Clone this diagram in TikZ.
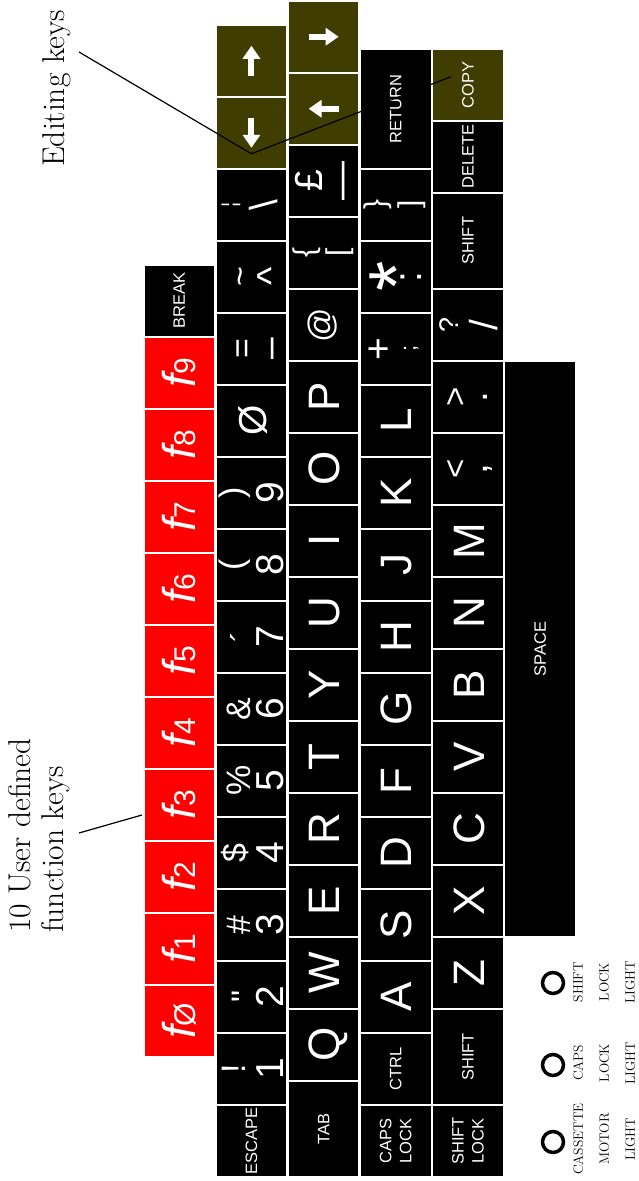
\documentclass[tikz,border=0pt]{standalone}
\usepackage{fontspec}
\newfontfamily\kf{Liberation Sans}
\usetikzlibrary{arrows.meta}
\definecolor{keyolive}{RGB}{64,61,0}
\definecolor{keyred}{RGB}{255,0,0}
\tikzset{
 keyb/.style={fill=black, draw=none, inner sep=0pt, outer sep=0pt, anchor=north west, minimum width=69.5pt},
 glyph/.style={rotate=90, text=white, inner sep=0pt, outer sep=0pt},
 small/.style={rotate=90, text=white, inner sep=0pt, align=center, font=\kf\fontsize{16.5}{20}\selectfont},
 arr/.style={white, line width=6pt, -{Triangle[width=17pt,length=13pt]}},
 ann/.style={rotate=90, inner sep=0pt, font=\fontsize{31.5}{33}\selectfont},
 leader/.style={line width=1.2pt},
 light/.style={circle, draw, line width=3.5pt, minimum size=21pt, inner sep=0pt},
 lightlab/.style={rotate=90, inner sep=0pt, align=center, font=\fontsize{13.5}{26}\selectfont},
}
\newcommand\KEY[5][black]{\node[keyb, fill=#1, minimum height=#5pt] (#2) at (#3,#4) {};}
\newcommand\G[5]{\node[glyph, font=\kf\fontsize{#4}{#4}\selectfont, anchor=base] (#1) at ([xshift=#3pt]#2.west) {#5};}
\newcommand\FN[1]{{\fontsize{46}{46}\selectfont\itshape f}{\fontsize{30}{30}\selectfont #1}}
\begin{document}
\begin{tikzpicture}[x=1pt,y=-1pt]
\useasboundingbox (0,0) rectangle (638,1181);
% ---- row A: function keys
\KEY{brk}{144.5}{266}{69.5}
\node[small] (brk-l) at (brk.center) {BREAK};
\foreach \k/\lab in {0/Ø,1/1,2/2,3/3,4/4,5/5,6/6,7/7,8/8,9/9}{
  \KEY[keyred]{f\k}{144.5}{986-72*\k}{69.5}
  \node[glyph, font=\kf, anchor=base] (f\k-l) at ([xshift=50.5pt]f\k.west) {\FN{\lab}};
}
% ---- row B
\KEY[keyolive]{up}{216.7}{26}{69.5}
\KEY[keyolive]{down}{216.7}{98}{69.5}
\KEY{bar}{216.7}{170}{69.5} \G{bar-t}{bar}{19.5}{20}{¦} \G{bar-b}{bar}{61}{39}{\textbackslash}
\KEY{tld}{216.7}{242}{69.5} \G{tld-t}{tld}{35}{34}{\textasciitilde} \G{tld-b}{tld}{68}{39}{\textasciicircum}
\KEY{eq}{216.7}{314}{69.5} \G{eq-t}{eq}{37}{34}{=} \G{eq-b}{eq}{66}{39}{–}
\KEY{k0}{216.7}{386}{69.5} \G{k0-l}{k0}{50}{39}{Ø}
\KEY{k9}{216.7}{458}{69.5} \G{k9-t}{k9}{27}{34}{)} \G{k9-b}{k9}{66.5}{39}{9}
\KEY{k8}{216.7}{530}{69.5} \G{k8-t}{k8}{27}{34}{(} \G{k8-b}{k8}{66.5}{39}{8}
\KEY{k7}{216.7}{602}{69.5} \G{k7-t}{k7}{39}{34}{´} \G{k7-b}{k7}{66.5}{39}{7}
\KEY{k6}{216.7}{674}{69.5} \G{k6-t}{k6}{33.3}{34}{\&} \G{k6-b}{k6}{66.5}{39}{6}
\KEY{k5}{216.7}{746}{69.5} \G{k5-t}{k5}{33.3}{34}{\%} \G{k5-b}{k5}{66.5}{39}{5}
\KEY{k4}{216.7}{818}{69.5} \G{k4-t}{k4}{30}{34}{\$} \G{k4-b}{k4}{66.5}{39}{4}
\KEY{k3}{216.7}{890}{69.5} \G{k3-t}{k3}{33.3}{34}{\#} \G{k3-b}{k3}{66.5}{39}{3}
\KEY{k2}{216.7}{962}{69.5} \G{k2-t}{k2}{38.3}{34}{"} \G{k2-b}{k2}{66.5}{39}{2}
\KEY{k1}{216.7}{1034}{69.5} \G{k1-t}{k1}{28.5}{34}{!} \G{k1-b}{k1}{66.5}{39}{1}
\KEY{esc}{216.7}{1106}{69.5} \node[small] (esc-l) at (esc.center) {ESCAPE};
% ---- row C
\KEY[keyolive]{right}{288.9}{2}{69.5}
\KEY[keyolive]{left}{288.9}{74}{69.5}
\KEY{pnd}{288.9}{146}{69.5} \G{pnd-t}{pnd}{33.8}{39}{£} \G{pnd-b}{pnd}{64.6}{39}{—}
\KEY{lbr}{288.9}{218}{69.5} \G{lbr-t}{lbr}{26}{30}{\{} \G{lbr-b}{lbr}{59}{30}{[}
\KEY{at}{288.9}{290}{69.5} \G{at-l}{at}{43.3}{34}{@}
\foreach \L/\yy in {P/362,O/434,I/506,U/578,Y/650,T/722,R/794,E/866,W/938,Q/1010}{
  \KEY{\L}{288.9}{\yy}{69.5} \G{\L-l}{\L}{50.8}{44}{\L}
}
\KEY{tab}{288.9}{1082}{93.5} \node[small] (tab-l) at (tab.center) {TAB};
% ---- row D
\KEY{ret}{361}{50}{117.5} \node[small] (ret-l) at (ret.center) {RETURN};
\KEY{rbr}{361}{170}{69.5} \G{rbr-t}{rbr}{24.8}{30}{\}} \G{rbr-b}{rbr}{58}{30}{]}
\KEY{ast}{361}{242}{69.5} \G{ast-t}{ast}{62}{78}{*} \G{ast-b}{ast}{60}{39}{:}
\KEY{pls}{361}{314}{69.5} \G{pls-t}{pls}{30.7}{39}{+} \G{pls-b}{pls}{54.5}{22}{;}
\foreach \L/\yy in {L/386,K/458,J/530,H/602,G/674,F/746,D/818,S/890,A/962}{
  \KEY{\L}{361}{\yy}{69.5} \G{\L-l}{\L}{50.8}{44}{\L}
}
\KEY{ctrl}{361}{1034}{69.5} \node[small] (ctrl-l) at (ctrl.center) {CTRL};
\KEY{caps}{361}{1106}{69.5} \node[small] (caps-l) at (caps.center) {CAPS\\LOCK};
% ---- row E
\KEY[keyolive]{copy}{433.2}{50}{69.5} \node[small] (copy-l) at (copy.center) {COPY};
\KEY{del}{433.2}{122}{69.5} \node[small] (del-l) at (del.center) {DELETE};
\KEY{shr}{433.2}{194}{93.5} \node[small] (shr-l) at (shr.center) {SHIFT};
\KEY{qm}{433.2}{290}{69.5} \G{qm-t}{qm}{24.8}{27}{?} \G{qm-b}{qm}{64}{39}{/}
\KEY{gt}{433.2}{362}{69.5} \G{gt-t}{gt}{33.5}{33}{>} \G{gt-b}{gt}{53.8}{39}{.}
\KEY{lt}{433.2}{434}{69.5} \G{lt-t}{lt}{33.5}{33}{<} \G{lt-b}{lt}{53.8}{39}{,}
\foreach \L/\yy in {M/506,N/578,B/650,V/722,C/794,X/866,Z/938}{
  \KEY{\L}{433.2}{\yy}{69.5} \G{\L-l}{\L}{50.8}{44}{\L}
}
\KEY{shl}{433.2}{1010}{93.5} \node[small] (shl-l) at (shl.center) {SHIFT};
\KEY{shlk}{433.2}{1106}{69.5} \node[small] (shlk-l) at (shlk.center) {SHIFT\\LOCK};
% ---- row F
\KEY{space}{505.4}{362}{573.5} \node[small] (space-l) at (space.center) {SPACE};
% ---- arrows
\draw[arr] ([yshift=-15pt]up.center) -- ([yshift=15pt]up.center);
\draw[arr] ([yshift=15pt]down.center) -- ([yshift=-15pt]down.center);
\draw[arr] ([xshift=-15pt]right.center) -- ([xshift=15pt]right.center);
\draw[arr] ([xshift=15pt]left.center) -- ([xshift=-15pt]left.center);
% ---- annotations
\node[ann, anchor=base] (edk) at (64,88.5) {Editing keys};
\coordinate (e1) at (79,52);
\coordinate (e2) at ([yshift=-21pt]down.center);
\coordinate (e3) at ([xshift=-17pt,yshift=8pt]copy.center);
\draw[leader] (e1) -- (e2) -- (e3);
\node[ann, anchor=base west] (fk1) at (30,933) {10 User defined};
\node[ann, anchor=base west] (fk2) at (63,933) {function keys};
\coordinate (g1) at (79,833);
\coordinate (g2) at (142,815);
\draw[leader] (g1) -- (g2);
% ---- lights
\node[light] (lt1) at (553,1142) {};
\node[lightlab, anchor=north] (lt1-l) at (573,1139) {CASSETTE\\MOTOR\\LIGHT};
\node[light] (lt2) at (553,1065) {};
\node[lightlab, anchor=north] (lt2-l) at (573,1063) {CAPS\\LOCK\\LIGHT};
\node[light] (lt3) at (553,983) {};
\node[lightlab, anchor=north] (lt3-l) at (573,982) {SHIFT\\LOCK\\LIGHT};
\end{tikzpicture}
\end{document}
